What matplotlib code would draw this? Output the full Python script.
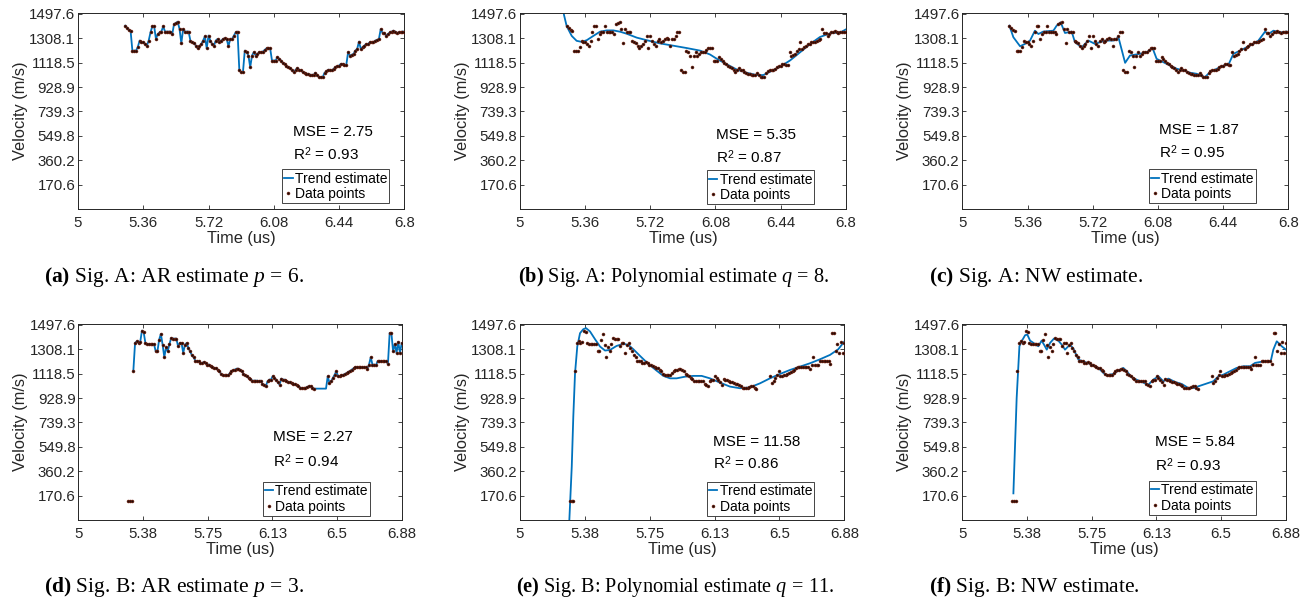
import numpy as np
import pandas as pd
import matplotlib
matplotlib.use("Agg")
import matplotlib.pyplot as plt

plt.rcParams['font.family'] = ['Liberation Sans', 'DejaVu Sans']
plt.rcParams['mathtext.fontset'] = 'custom'
plt.rcParams['mathtext.rm'] = 'Liberation Serif'
plt.rcParams['mathtext.it'] = 'Liberation Serif:italic'
plt.rcParams['mathtext.bf'] = 'Liberation Serif:bold'
plt.rcParams['mathtext.sf'] = 'Liberation Sans'

# ---------------- data ----------------
Y_TICKS = [170.6, 360.2, 549.8, 739.3, 928.9, 1118.5, 1308.1, 1497.6]
X_TICKS_A = [5, 5.36, 5.72, 6.08, 6.44, 6.8]
X_LABELS_A = ["5", "5.36", "5.72", "6.08", "6.44", "6.8"]
X_TICKS_B = [5, 5.376, 5.752, 6.128, 6.504, 6.88]
X_LABELS_B = ["5", "5.38", "5.75", "6.13", "6.5", "6.88"]

# Signal A samples (start time, step, velocities)
SIG_A_T0 = 5.26
SIG_A_DT = 0.01
SIG_A_V = [
    1406, 1390, 1372, 1367, 1212, 1212, 1212, 1240, 1290, 1277,
    1277, 1264, 1251, 1290, 1354, 1401, 1401, 1303, 1341, 1354,
    1360, 1401, 1360, 1360, 1360, 1360, 1341, 1419, 1427, 1437,
    1380, 1269, 1380, 1360, 1360, 1360, 1290, 1277, 1270, 1251,
    1230, 1246, 1264, 1290, 1323, 1230, 1329, 1290, 1264, 1251,
    1290, 1303, 1277, 1290, 1303, 1308, 1303, 1246, 1303, 1303,
    1329, 1354, 1360, 1058, 1045, 1045, 1212, 1200, 1174, 1083,
    1174, 1200, 1174, 1187, 1200, 1200, 1205, 1218, 1230, 1230,
    1230, 1135, 1135, 1135, 1161, 1148, 1135, 1115, 1109, 1090,
    1083, 1076, 1060, 1045, 1063, 1076, 1063, 1058, 1045, 1040,
    1032, 1032, 1024, 1024, 1024, 1040, 1019, 1006, 1006, 1006,
    1040, 1050, 1063, 1063, 1058, 1070, 1083, 1090, 1096, 1109,
    1109, 1101, 1101, 1200, 1174, 1180, 1187, 1212, 1225, 1282,
    1225, 1240, 1251, 1264, 1264, 1277, 1277, 1277, 1290, 1295,
    1303, 1380, 1349, 1349, 1329, 1340, 1354, 1360, 1367, 1360,
    1349, 1354, 1354, 1360, 1360,
]

# Signal B samples (nan = missing sample)
SIG_B_T0 = 5.29
SIG_B_DT = 0.01
nan = float('nan')
SIG_B_V = [
    130, 130, 130, 1142, 1357, 1370, 1357, 1365, 1453, 1440,
    1357, 1349, 1349, 1349, 1349, 1349, 1292, 1292, 1383, 1427,
    1344, 1246, 1323, 1292, 1349, 1396, 1391, 1391, 1391, 1331,
    1357, 1357, 1279, 1344, 1357, 1318, 1292, 1262, 1246, 1220,
    1215, 1215, 1202, 1202, 1209, 1202, 1189, 1189, 1176, 1170,
    1163, 1163, 1150, 1137, 1116, 1106, 1106, 1106, 1106, 1120,
    1137, 1145, 1150, 1157, 1157, 1150, 1137, 1116, 1106, 1098,
    1085, 1080, 1064, 1064, 1064, 1064, 1059, 1064, 1038, 1033,
    1020, 1059, 1072, 1072, 1098, 1085, 1072, 1050, 1033, 1080,
    1072, 1072, 1064, 1054, 1050, 1046, 1040, 1038, 1030, 1020,
    1010, 1007, 1007, 1007, 1015, 1020, 1020, 1010, 1002, nan,
    nan, nan, nan, nan, nan, nan, 1098, 1046, 1060, 1085,
    1110, 1137, 1098, 1100, 1106, 1110, 1116, 1124, 1132, 1140,
    1150, 1160, 1168, 1168, 1168, 1168, 1168, 1168, 1168, 1157,
    1189, 1246, 1189, 1189, 1183, 1215, 1215, 1215, 1215, 1215,
    1215, 1194, 1435, 1435, 1292, 1349, 1279, 1365, 1279, 1357,
]
AR_B_FIRST_T = 5.32  # AR trend of signal B starts after the low outliers

# Polynomial estimate, signal A (q = 8)
POLY_A_T = [5.235, 5.243, 5.258, 5.286, 5.313, 5.341, 5.369, 5.405, 5.442, 5.479,
            5.516, 5.553, 5.590, 5.645, 5.700, 5.774, 5.848, 5.921, 5.995, 6.050,
            6.087, 6.142, 6.198, 6.253, 6.308, 6.345, 6.382, 6.437, 6.493, 6.548,
            6.603, 6.658, 6.714, 6.750, 6.778, 6.800]
POLY_A_V = [1600, 1490, 1402, 1326, 1288, 1280, 1293, 1326, 1359, 1369,
            1369, 1359, 1343, 1313, 1293, 1268, 1250, 1232, 1212, 1182,
            1149, 1106, 1065, 1040, 1022, 1022, 1048, 1086, 1136, 1199,
            1263, 1318, 1346, 1351, 1359, 1376]

# NW estimate, signal A
NW_A_T = [5.260, 5.282, 5.319, 5.346, 5.374, 5.401, 5.420, 5.447, 5.503, 5.521,
          5.543, 5.567, 5.604, 5.622, 5.659, 5.696, 5.733, 5.760, 5.788, 5.834,
          5.862, 5.899, 5.926, 5.981, 6.018, 6.051, 6.073, 6.110, 6.147, 6.184,
          6.221, 6.258, 6.294, 6.340, 6.368, 6.405, 6.442, 6.469, 6.497, 6.534,
          6.570, 6.607, 6.635, 6.672, 6.690, 6.718, 6.755, 6.791]
NW_A_V = [1406, 1316, 1246, 1264, 1290, 1367, 1341, 1360, 1367, 1406,
          1432, 1349, 1360, 1277, 1238, 1290, 1264, 1277, 1290, 1290,
          1316, 1117, 1174, 1187, 1200, 1230, 1148, 1122, 1096, 1071,
          1058, 1040, 1032, 1006, 1045, 1071, 1096, 1101, 1187, 1212,
          1238, 1264, 1290, 1360, 1341, 1367, 1354, 1360]

# Polynomial estimate, signal B (q = 11)
POLY_B_T = [5.283, 5.286, 5.300, 5.309, 5.319, 5.332, 5.348, 5.367, 5.383, 5.406,
            5.435, 5.464, 5.493, 5.522, 5.560, 5.599, 5.628, 5.657, 5.696, 5.744,
            5.792, 5.831, 5.870, 5.908, 5.957, 6.005, 6.053, 6.101, 6.159, 6.217,
            6.275, 6.333, 6.391, 6.449, 6.507, 6.565, 6.623, 6.681, 6.739, 6.797,
            6.845, 6.880]
POLY_B_V = [-200, -20, 395, 784, 1121, 1329, 1433, 1464, 1472, 1446,
            1386, 1329, 1298, 1303, 1334, 1350, 1342, 1308, 1256, 1194,
            1142, 1101, 1082, 1082, 1095, 1101, 1101, 1082, 1049, 1018,
            1005, 1012, 1043, 1082, 1116, 1147, 1173, 1199, 1230, 1264,
            1308, 1368]

# NW estimate, signal B
NW_B_T = [5.297, 5.316, 5.332, 5.345, 5.365, 5.378, 5.394, 5.423, 5.442, 5.461,
          5.475, 5.491, 5.510, 5.533, 5.558, 5.578, 5.597, 5.626, 5.646, 5.675,
          5.713, 5.752, 5.791, 5.820, 5.839, 5.878, 5.907, 5.936, 5.956, 5.985,
          6.033, 6.082, 6.111, 6.140, 6.169, 6.198, 6.237, 6.276, 6.314, 6.353,
          6.372, 6.459, 6.489, 6.518, 6.556, 6.595, 6.634, 6.673, 6.702, 6.731,
          6.770, 6.793, 6.808, 6.828, 6.857, 6.882]
NW_B_V = [188, 929, 1331, 1370, 1417, 1422, 1375, 1349, 1331, 1375,
          1344, 1305, 1357, 1391, 1375, 1344, 1305, 1344, 1313, 1227,
          1209, 1189, 1163, 1124, 1106, 1116, 1142, 1163, 1137, 1090,
          1059, 1033, 1072, 1098, 1059, 1080, 1054, 1038, 1007, 1007,
          1020, 1059, 1098, 1111, 1137, 1163, 1176, 1176, 1202, 1209,
          1215, 1215, 1305, 1370, 1331, 1305]

MSE = ["2.75", "5.35", "1.87", "2.27", "11.58", "5.84"]
R2 = ["0.93", "0.87", "0.95", "0.94", "0.86", "0.93"]
CAPTIONS = [
    r"$\mathbf{(a)}$ Sig. A: AR estimate $p\,=\,6$.",
    r"$\mathbf{(b)}$ Sig. A: Polynomial estimate $q\,=\,8$.",
    r"$\mathbf{(c)}$ Sig. A: NW estimate.",
    r"$\mathbf{(d)}$ Sig. B: AR estimate $p\,=\,3$.",
    r"$\mathbf{(e)}$ Sig. B: Polynomial estimate $q\,=\,11$.",
    r"$\mathbf{(f)}$ Sig. B: NW estimate.",
]

# ---------------- derived series ----------------
tA = np.round(SIG_A_T0 + SIG_A_DT * np.arange(len(SIG_A_V)), 3)
vA = np.array(SIG_A_V, dtype=float)
tB = np.round(SIG_B_T0 + SIG_B_DT * np.arange(len(SIG_B_V)), 3)
vB = np.array(SIG_B_V, dtype=float)
mB = tB >= AR_B_FIRST_T - 1e-9
arB_t = tB[mB]
arB_v = pd.Series(vB[mB]).ffill().to_numpy()

# ---------------- layout ----------------
W, H = 1309, 604
fig = plt.figure(figsize=(W / 100, H / 100), dpi=100)

# axes boxes in pixels: left, top, right, bottom
BOXES = [
    (78, 13.3, 404.3, 209), (520, 13.3, 845.7, 209), (962.3, 13.3, 1288.3, 209),
    (78.3, 324.3, 401.7, 520), (520, 324.3, 844.3, 520), (962.3, 324.3, 1285.7, 520),
]
TEXT_POS = [(0.658, 0.392, 0.281), (0.602, 0.378, 0.267), (0.604, 0.404, 0.290),
            (0.603, 0.426, 0.303), (0.594, 0.400, 0.290), (0.597, 0.400, 0.281)]
LEG_POS = [(0.954, 0.029), (0.903, 0.024), (0.901, 0.029),
           (0.902, 0.022), (0.907, 0.022), (0.908, 0.026)]
CAP_POS = [(44.3, 281.7), (517.7, 281.7), (929, 281.7),
           (44.3, 591.7), (516, 591.7), (929, 591.7)]
CAP_SIZE = [15.5, 14.6, 15.5, 15.5, 14.6, 15.5]

BLUE = '#0072BD'
AX_COL = '0.15'

series = [
    (tA, vA, tA, vA, X_TICKS_A, X_LABELS_A),
    (tA, vA, POLY_A_T, POLY_A_V, X_TICKS_A, X_LABELS_A),
    (tA, vA, NW_A_T, NW_A_V, X_TICKS_A, X_LABELS_A),
    (tB, vB, arB_t, arB_v, X_TICKS_B, X_LABELS_B),
    (tB, vB, POLY_B_T, POLY_B_V, X_TICKS_B, X_LABELS_B),
    (tB, vB, NW_B_T, NW_B_V, X_TICKS_B, X_LABELS_B),
]

for i, (box, (dt, dv, tt, tv, xt, xl)) in enumerate(zip(BOXES, series)):
    l, t, r, b = box
    ax = fig.add_axes([l / W, 1 - b / H, (r - l) / W, (b - t) / H])
    ln, = ax.plot(tt, tv, color=BLUE, lw=1.3, label='Trend estimate', zorder=2)
    pts, = ax.plot(dt, dv, ls='none', marker='o', ms=2.1, mfc='#1e0804',
                   mec='#7a2412', mew=0.4, label='Data points', zorder=3)
    ax.set_xlim(5, xt[-1])
    ax.set_ylim(-19, 1502)
    ax.set_xticks(xt)
    ax.set_xticklabels(xl)
    ax.set_yticks(Y_TICKS)
    ax.set_yticklabels([f"{v:.1f}" for v in Y_TICKS])
    ax.tick_params(direction='in', length=3, width=0.6, top=True, right=True,
                   labelsize=10.8, colors=AX_COL)
    ax.tick_params(axis='x', pad=5)
    ax.tick_params(axis='y', pad=2)
    for s in ax.spines.values():
        s.set_color(AX_COL)
        s.set_linewidth(0.7)
    ax.set_xlabel('Time (us)', fontsize=11.8, color=AX_COL, labelpad=1)
    ax.set_ylabel('Velocity (m/s)', fontsize=11.8, color=AX_COL, labelpad=1)

    tx, ym, yr = TEXT_POS[i]
    ax.text(tx, ym, f"MSE = {MSE[i]}", transform=ax.transAxes, fontsize=11,
            color='black', va='center', ha='left')
    ax.text(tx, yr, r"R$^{\mathsf{2}}$" + f" = {R2[i]}", transform=ax.transAxes,
            fontsize=11, color='black', va='center', ha='left')

    lx, ly = LEG_POS[i]
    leg = ax.legend(handles=[ln, pts], loc='lower right', bbox_to_anchor=(lx, ly),
                    fontsize=10, handlelength=0.6, handletextpad=0.15,
                    borderpad=0.15, labelspacing=0.12, borderaxespad=0,
                    fancybox=False, framealpha=1, edgecolor=AX_COL,
                    markerscale=1.0)
    leg.get_frame().set_linewidth(0.6)

    cx, cy = CAP_POS[i]
    fig.text(cx / W, 1 - cy / H, CAPTIONS[i], fontsize=CAP_SIZE[i],
             family='Liberation Serif', va='baseline', ha='left')

fig.savefig('out.png', dpi=100)
